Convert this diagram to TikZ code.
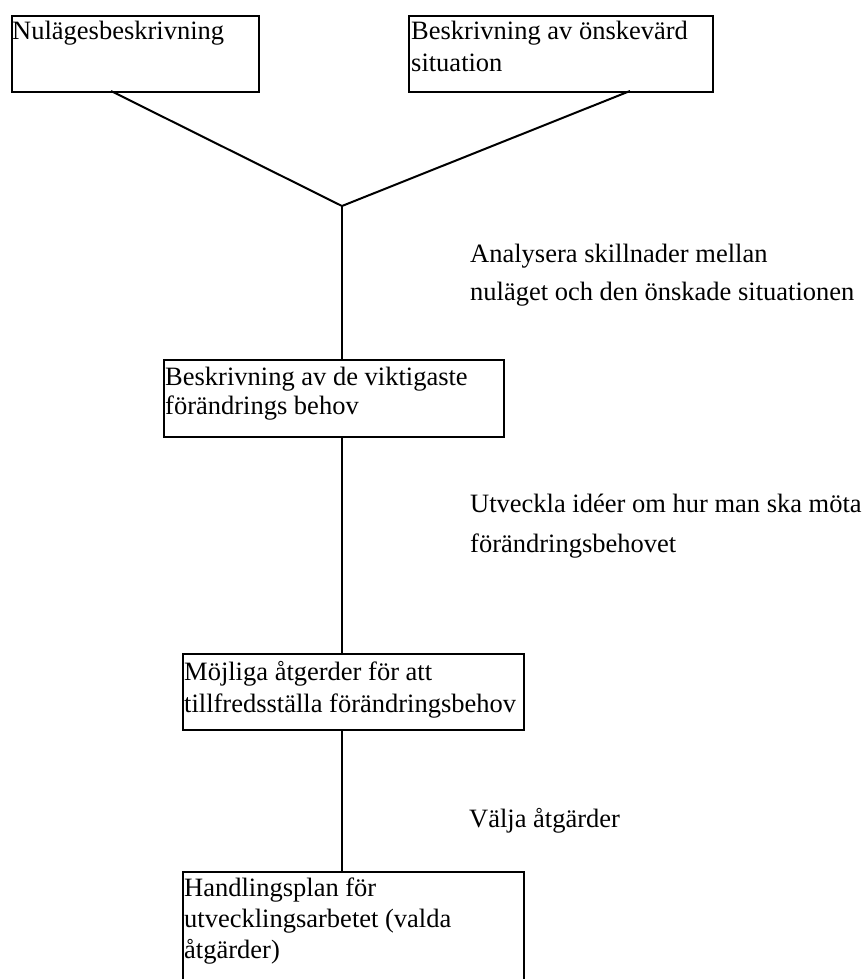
\documentclass[tikz,border=0pt]{standalone}
\usepackage{fontspec}
\setmainfont{Liberation Serif}
\begin{document}
\begin{tikzpicture}[x=1pt,y=-1pt,
  box/.style={draw,line width=2pt,rectangle,inner sep=0pt},
  conn/.style={line width=2pt},
  txt/.style={anchor=base west,inner sep=0pt,font=\fontsize{26.5}{31}\selectfont},
]
\useasboundingbox[fill=white] (0,0) rectangle (864,979);
% boxes
\node[box,minimum width=247pt,minimum height=76pt,anchor=north west] (b1) at (11,15) {};
\node[box,minimum width=304pt,minimum height=76pt,anchor=north west] (b2) at (408,15) {};
\node[box,minimum width=340pt,minimum height=77pt,anchor=north west] (b3) at (163,359) {};
\node[box,minimum width=341pt,minimum height=76pt,anchor=north west] (b4) at (182,653) {};
\node[box,minimum width=341pt,minimum height=125pt,anchor=north west] (b5) at (182,871) {};
% box texts
\node[txt] (t1) at (12,40) {Nulägesbeskrivning};
\node[txt] (t2a) at (411,40) {Beskrivning av önskevärd};
\node[txt] (t2b) at (411,72) {situation};
\node[txt] (t3a) at (165,385) {Beskrivning av de viktigaste};
\node[txt] (t3b) at (165,414) {förändrings behov};
\node[txt] (t4a) at (184,680) {Möjliga åtgerder för att};
\node[txt] (t4b) at (184,712) {tillfredsställa förändringsbehov};
\node[txt] (t5a) at (184,896) {Handlingsplan för};
\node[txt] (t5b) at (184,927) {utvecklingsarbetet (valda};
\node[txt] (t5c) at (184,958) {åtgärder)};
% annotations
\node[txt] (a1) at (470,262) {Analysera skillnader mellan};
\node[txt] (a2) at (470,300) {nuläget och den önskade situationen};
\node[txt] (a3) at (470,512) {Utveckla idéer om hur man ska möta};
\node[txt] (a4) at (470,552) {förändringsbehovet};
\node[txt] (a5) at (469,827) {Välja åtgärder};
% connectors
\coordinate (apex) at (342,206);
\coordinate (p1) at (111,91);
\coordinate (p2) at (630,91);
\draw[conn] (p1) -- (apex) -- (p2);
\draw[conn] (apex) -- (apex |- b3.north);
\draw[conn] (apex |- b3.south) -- (apex |- b4.north);
\draw[conn] (apex |- b4.south) -- (apex |- b5.north);
\end{tikzpicture}
\end{document}
